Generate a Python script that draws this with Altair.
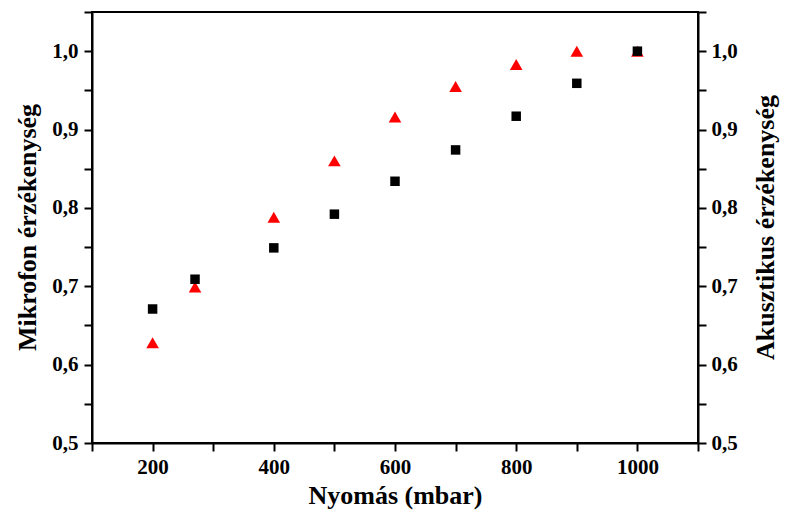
import altair as alt
import pandas as pd

pressure = [200, 270, 400, 500, 600, 700, 800, 900, 1000]
mikrofon = [0.671, 0.709, 0.749, 0.792, 0.834, 0.874, 0.917, 0.959, 1.0]
akusztikus = [0.628, 0.699, 0.788, 0.860, 0.916, 0.955, 0.983, 1.0, 1.0]

x_ticks = list(range(100, 1101, 100))
y_ticks = [0.5, 0.55, 0.6, 0.65, 0.7, 0.75, 0.8, 0.85, 0.9, 0.95, 1.0, 1.05]

df_m = pd.DataFrame({"p": pressure, "v": mikrofon})
df_a = pd.DataFrame({"p": pressure, "v": akusztikus})

FONT = "Liberation Serif"
ylabel_expr = ("abs(datum.value*10 - round(datum.value*10)) < 0.01 ? "
               "replace(format(datum.value, '.1f'), '.', ',') : ''")

x_enc = alt.X(
    "p:Q",
    scale=alt.Scale(domain=[100, 1100], nice=False, zero=False),
    axis=alt.Axis(
        values=x_ticks,
        labelExpr="datum.value % 200 == 0 ? format(datum.value, 'd') : ''",
        title="Nyomás (mbar)",
        titleFontSize=26,
        titleY=60,
        titleBaseline="alphabetic",
        labelPadding=5,
    ),
)

y_scale = alt.Scale(domain=[0.5, 1.05], nice=False, zero=False)

tri = alt.Chart(df_a).mark_point(
    shape="triangle-up", filled=True, color="#ff0000", opacity=1, size=160
).encode(
    x=x_enc,
    y=alt.Y(
        "v:Q",
        scale=y_scale,
        axis=alt.Axis(
            orient="right",
            values=y_ticks,
            labelExpr=ylabel_expr,
            title="Akusztikus érzékenység",
            titleAngle=-90,
            titleX=67,
            titleY=215,
            titleAlign="center",
            titleBaseline="middle",
            titleFontSize=26,
            labelPadding=5,
        ),
    ),
)

sq = alt.Chart(df_m).mark_point(
    shape="square", filled=True, color="#000000", opacity=1, size=90
).encode(
    x=x_enc,
    y=alt.Y(
        "v:Q",
        scale=y_scale,
        axis=alt.Axis(
            orient="left",
            values=y_ticks,
            labelExpr=ylabel_expr,
            title="Mikrofon érzékenység",
            titleAngle=-90,
            titleX=-65,
            titleY=215,
            titleAlign="center",
            titleBaseline="middle",
            titleFontSize=26,
            labelPadding=6,
        ),
    ),
)

chart = (
    alt.layer(tri, sq)
    .resolve_scale(y="independent")
    .properties(
        width=606,
        height=431,
        autosize=alt.AutoSizeParams(type="none"),
        padding={"left": 92, "top": 12, "right": 87, "bottom": 70},
        background="white",
    )
    .configure_view(stroke="black", strokeWidth=2)
    .configure_axis(
        grid=False,
        domainColor="black",
        domainWidth=2,
        tickColor="black",
        tickWidth=2,
        tickSize=8,
        labelFont=FONT,
        labelFontSize=21,
        labelFontWeight="bold",
        labelColor="black",
        titleFont=FONT,
        titleFontWeight="bold",
        titleColor="black",
        labelOverlap=False,
        labelFlush=False,
    )
)

chart.save("out.html", embed_options={"renderer": "svg", "actions": False})
